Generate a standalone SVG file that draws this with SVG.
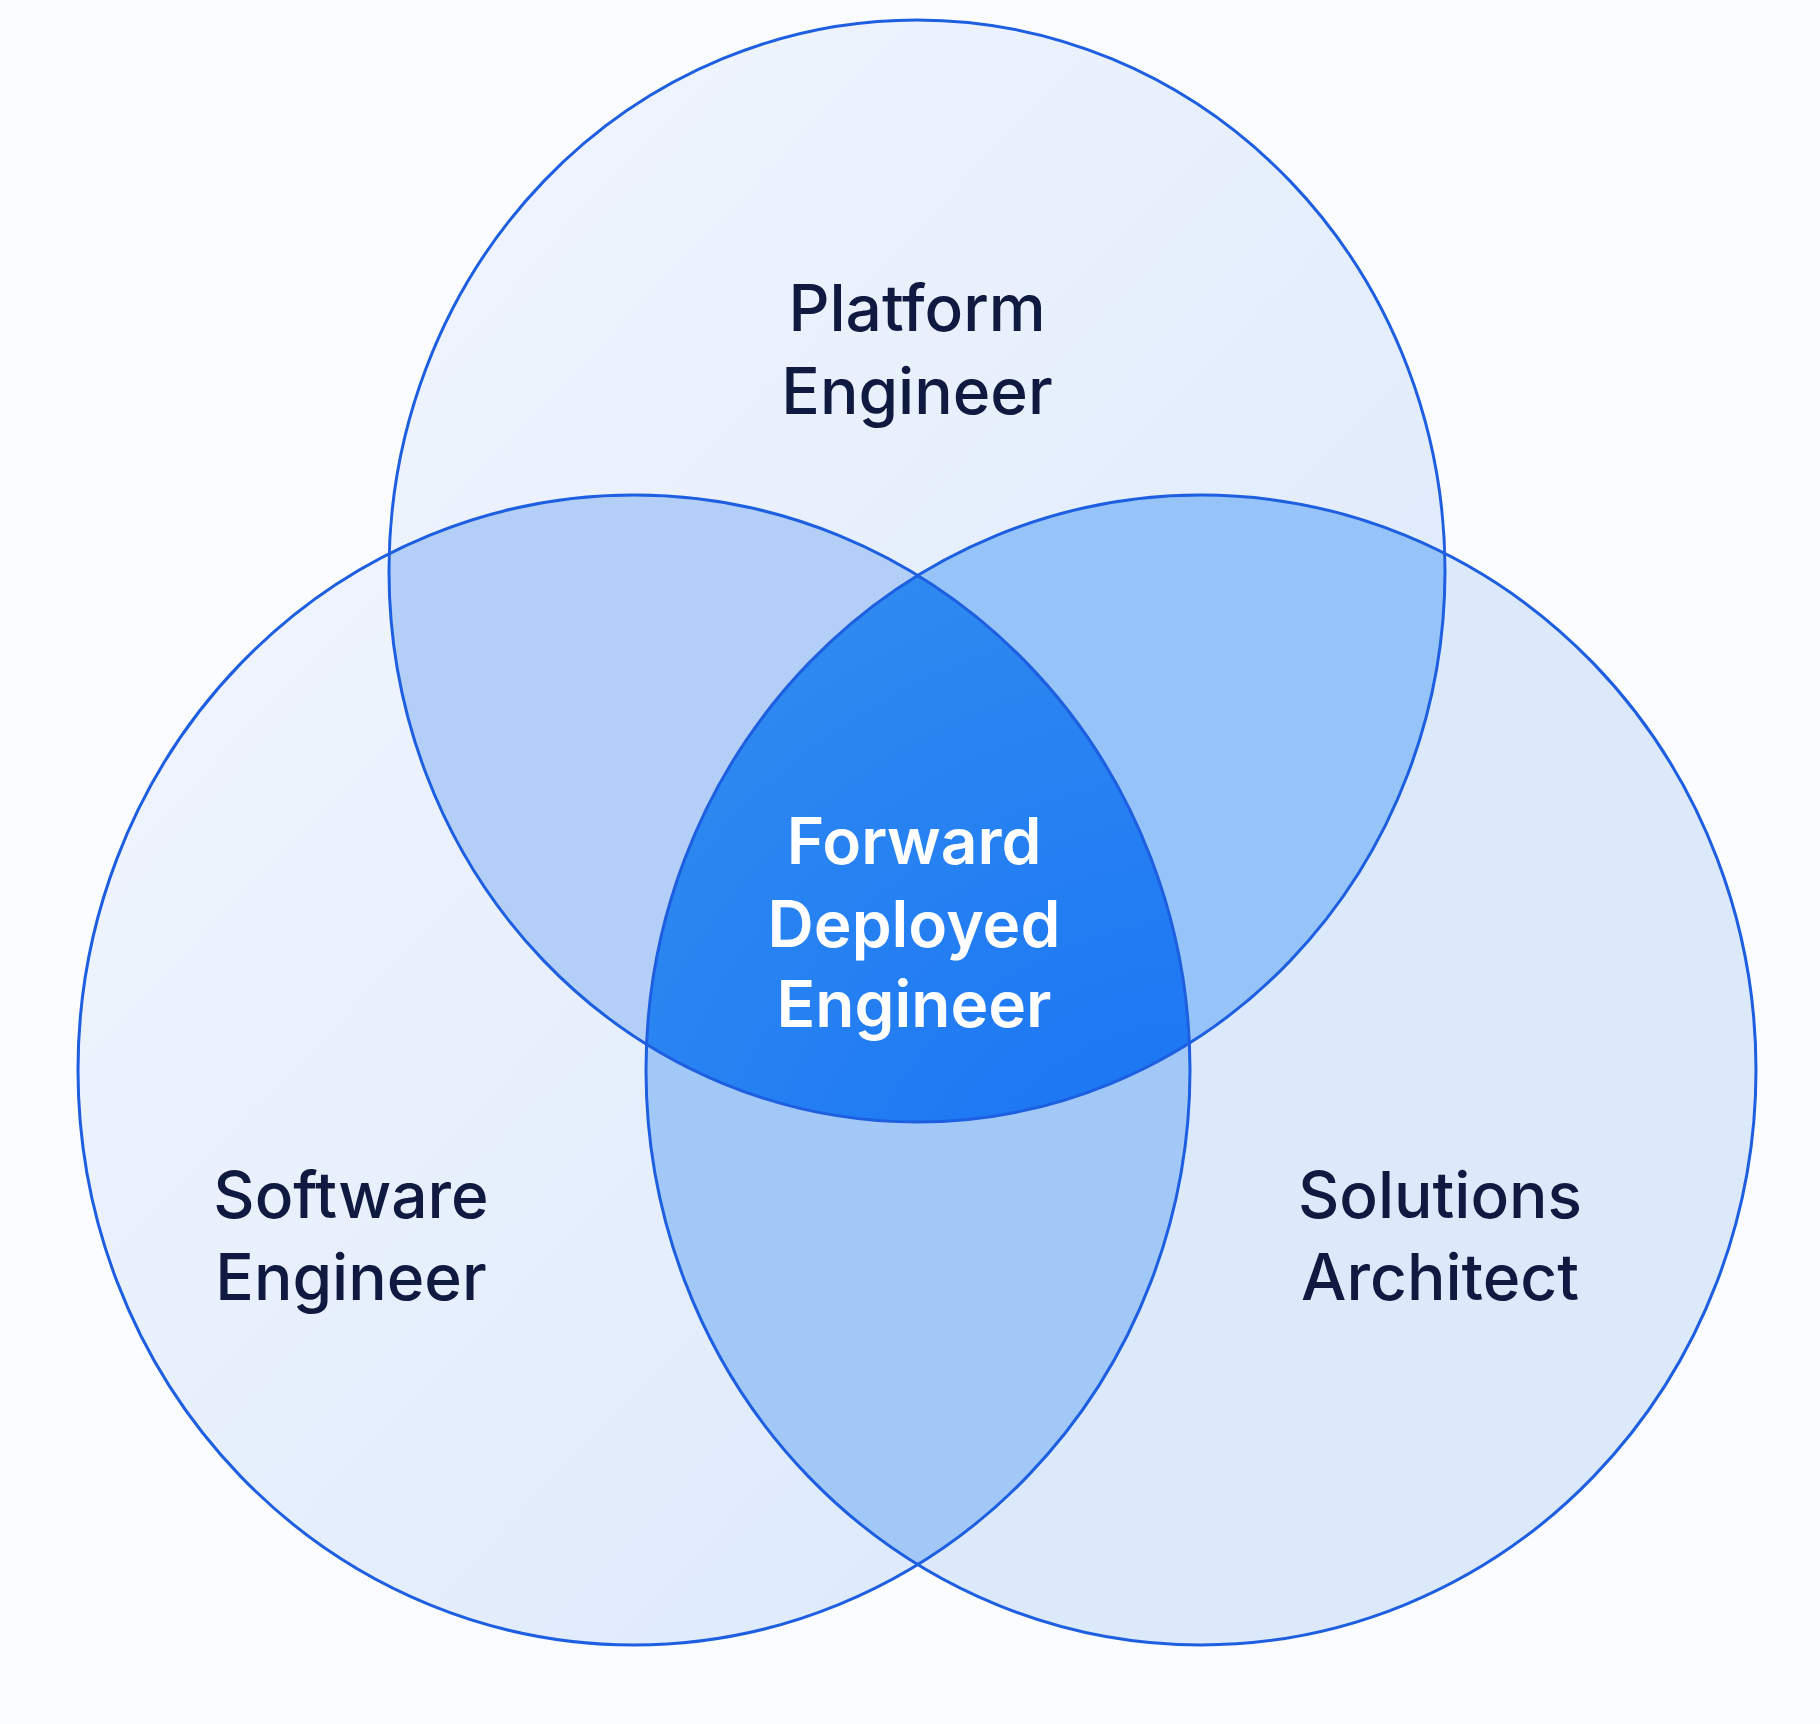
<svg xmlns="http://www.w3.org/2000/svg" width="1820" height="1724" viewBox="0 0 1820 1724">
<style>
.ring{fill:none;stroke:#1d5fe0;stroke-width:3}
.lbl{font-family:Inter,"Liberation Sans",sans-serif;font-size:64px;font-weight:500;fill:#101a40;text-anchor:middle}
.ctr{font-family:Inter,"Liberation Sans",sans-serif;font-size:64px;font-weight:600;fill:#ffffff;text-anchor:middle}
</style>
<defs>
<clipPath id="cT"><ellipse cx="917" cy="571" rx="528" ry="551"/></clipPath>
<clipPath id="cL"><ellipse cx="634" cy="1070" rx="556" ry="575"/></clipPath>
<radialGradient id="gC" cx="0.5" cy="0.7" r="0.7"><stop offset="0" stop-color="#1670f5"/><stop offset="1" stop-color="#2f8af0"/></radialGradient>
<linearGradient id="gS" x1="0" y1="0" x2="1" y2="1"><stop offset="0" stop-color="#f2f6fe"/><stop offset="1" stop-color="#dbe8fb"/></linearGradient>
</defs>
<rect width="1820" height="1724" fill="#fbfcfe"/>
<g id="fills">
<ellipse cx="917" cy="571" rx="528" ry="551" fill="url(#gS)"/>
<ellipse cx="634" cy="1070" rx="556" ry="575" fill="url(#gS)"/>
<ellipse cx="1201" cy="1070" rx="555" ry="575" fill="#dce9fb"/>
<g clip-path="url(#cT)"><ellipse cx="634" cy="1070" rx="556" ry="575" fill="#b3cff8"/><ellipse cx="1201" cy="1070" rx="555" ry="575" fill="#96c4f8"/></g>
<g clip-path="url(#cL)"><ellipse cx="1201" cy="1070" rx="555" ry="575" fill="#a2c8f8"/></g>
<g clip-path="url(#cT)"><g clip-path="url(#cL)"><ellipse cx="1201" cy="1070" rx="555" ry="575" fill="url(#gC)"/></g></g>
</g>
<g id="top"><ellipse class="ring" cx="917" cy="571" rx="528" ry="551"/><text class="lbl" x="917" y="331">Platform</text><text class="lbl" x="917" y="414">Engineer</text></g>
<g id="left"><ellipse class="ring" cx="634" cy="1070" rx="556" ry="575"/><text class="lbl" x="351" y="1218">Software</text><text class="lbl" x="351" y="1300">Engineer</text></g>
<g id="right"><ellipse class="ring" cx="1201" cy="1070" rx="555" ry="575"/><text class="lbl" x="1440" y="1218">Solutions</text><text class="lbl" x="1440" y="1300">Architect</text></g>
<g id="center"><text class="ctr" x="914" y="864">Forward</text><text class="ctr" x="914" y="947">Deployed</text><text class="ctr" x="914" y="1027">Engineer</text></g>
<g id="connectors"/>
</svg>
